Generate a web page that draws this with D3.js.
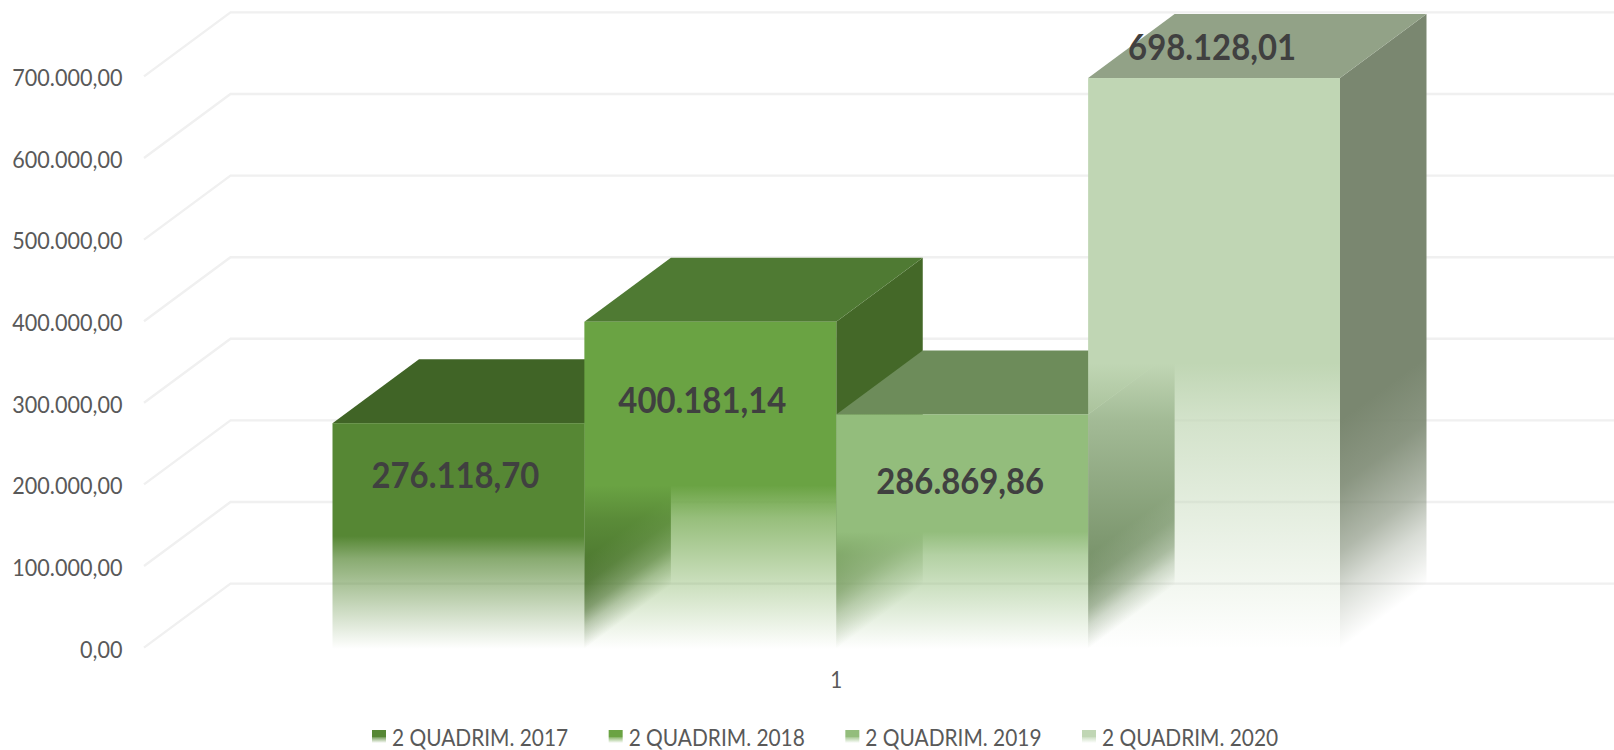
<!DOCTYPE html>
<html>
<head>
<meta charset="utf-8">
<script src="https://cdnjs.cloudflare.com/ajax/libs/d3/7.8.5/d3.min.js"></script>
<style>
html,body{margin:0;padding:0;background:#fff;overflow:hidden}
svg{display:block}
text{font-family:Lato,"Open Sans",sans-serif}
</style>
</head>
<body>
<svg id="chart" width="1614" height="750"></svg>
<script>
const seriesNames = ["2 QUADRIM. 2017","2 QUADRIM. 2018","2 QUADRIM. 2019","2 QUADRIM. 2020"];
const seriesValues = [276118.70,400181.14,286869.86,698128.01];
const categoryLabel = "1";
const tickValues = [0,100000,200000,300000,400000,500000,600000,700000];
const frontColors = ["#568734","#6aa343","#93bd7c","#c0d6b4"];
const topColors = ["#406426","#4f7a33","#6d8c5a","#92a287"];
const sideColors = ["#375621","#446828","#5e7a4f","#7a8770"];
const labelOffsets = [[-3,51],[-8,77],[-2,65],[-2,-32]];
const frontFade = [[0,1],[.5,1],[.6,.7],[1,0]];
const sideFade = [[0,1],[.6,1],[.715,.88],[.83,.59],[.9,.29],[1,0]];

const W = 1614, H = 750;
const depthX = 86.5, depthY = -64;
const shear = depthY / depthX;
const textScale = 0.9;
const locale = d3.formatLocale({decimal:",",thousands:".",grouping:[3],currency:["",""]});
const fmt = locale.format(",.2f");

const svg = d3.select("#chart");
const y = d3.scaleLinear().domain([0,700000]).range([649,76.5]);      // bar heights
const yBack = d3.scaleLinear().domain([0,700000]).range([583.6,12.4]); // back-wall grid
const yAxis = d3.scaleLinear().domain([0,700000]).range([649.5,78]);  // front tick labels
const x = d3.scaleBand().domain(seriesNames).range([332.5,1340]).padding(0);
const bw = x.bandwidth();
const floorLeft = 144;

// gradients
const defs = svg.append("defs");
function grad(id,color,stops){
  const g = defs.append("linearGradient").attr("id",id).attr("x1",0).attr("y1",0).attr("x2",0).attr("y2",1);
  stops.forEach(([o,a])=>g.append("stop").attr("offset",o).attr("stop-color",color).attr("stop-opacity",a));
}
seriesNames.forEach((n,i)=>{grad("front"+i,frontColors[i],frontFade);grad("side"+i,sideColors[i],sideFade);});

// grid lines
svg.append("g").selectAll("path").data(tickValues).join("path")
  .attr("fill","none").attr("stroke","#f0f0f0").attr("stroke-width",2.4)
  .attr("d",d=>{
    const p=d3.path();
    p.moveTo(floorLeft,yBack(d)-depthY);
    p.lineTo(floorLeft+depthX,yBack(d));
    p.lineTo(W,yBack(d));
    return p.toString();
  });

// value axis
const axis = d3.axisLeft(yAxis).tickValues(tickValues).tickSize(0).tickPadding(0).tickFormat(fmt);
const ag = svg.append("g").attr("transform","translate(122.5,0)").call(axis);
ag.select(".domain").remove();
ag.selectAll("text").attr("fill","#595959").attr("transform",`scale(${textScale},1)`)
  .style("font-size","24px").style("font-family","Lato,sans-serif");

// bars
const bars = svg.append("g").selectAll("g").data(seriesNames).join("g");
bars.each(function(n,i){
  const g = d3.select(this), v = seriesValues[i], x0 = x(n), t = y(v), b = y(0);
  g.append("rect")
    .attr("transform",`translate(${x0+bw},0) matrix(1,${shear},0,1,0,0)`)
    .attr("x",0).attr("width",depthX).attr("y",t).attr("height",b-t)
    .attr("fill",`url(#side${i})`);
  g.append("path")
    .attr("d",d3.line()([[x0,t],[x0+depthX,t+depthY],[x0+bw+depthX,t+depthY],[x0+bw,t]])+"Z")
    .attr("fill",topColors[i]);
  g.append("rect")
    .attr("x",x0).attr("width",bw).attr("y",t).attr("height",b-t)
    .attr("fill",`url(#front${i})`);
});

// data labels
svg.append("g").selectAll("text").data(seriesNames).join("text")
  .attr("transform",(n,i)=>`translate(${x(n)+bw/2+labelOffsets[i][0]},${y(seriesValues[i])+labelOffsets[i][1]}) scale(${textScale},1)`)
  .attr("text-anchor","middle").attr("dominant-baseline","central")
  .attr("fill","#404040").style("font-size","36.5px").style("font-weight",700)
  .text((n,i)=>fmt(seriesValues[i]));

// category label
svg.append("text")
  .attr("transform",`translate(${x.range()[0]+(x.range()[1]-x.range()[0])/2},679) scale(${textScale},1)`)
  .attr("text-anchor","middle").attr("dominant-baseline","central")
  .attr("fill","#595959").style("font-size","23px").text(categoryLabel);

// legend
const legendX = d3.scalePoint().domain(seriesNames).range([372,1082]);
const leg = svg.append("g").selectAll("g").data(seriesNames).join("g")
  .attr("transform",n=>`translate(${legendX(n)},730)`);
leg.append("rect").attr("width",14).attr("height",13).attr("fill",(n,i)=>`url(#front${i})`);
leg.append("text").attr("transform",`translate(20,7) scale(${textScale},1)`).attr("dominant-baseline","central")
  .attr("fill","#595959").style("font-size","23.2px").text(n=>n);
</script>
</body>
</html>
